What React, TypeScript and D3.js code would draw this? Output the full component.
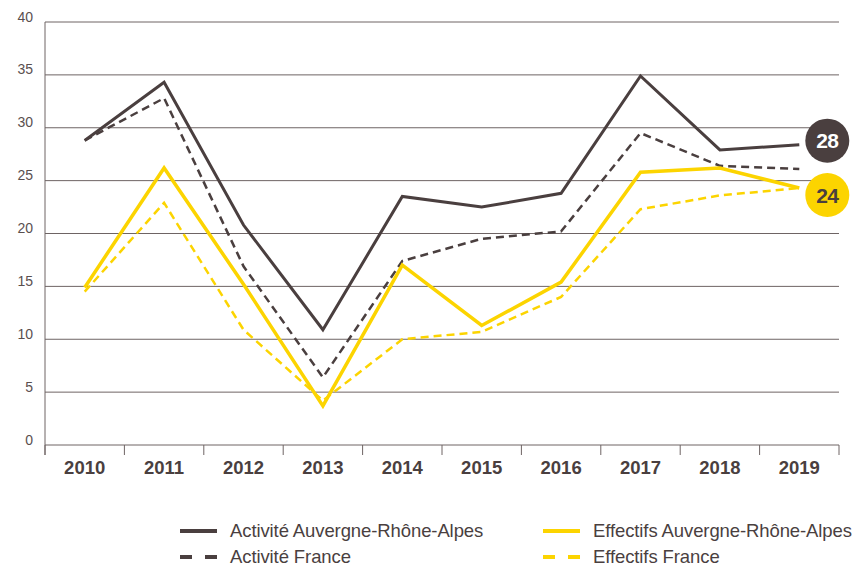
import React, { useEffect, useRef } from 'react';
import * as d3 from 'd3';

const years = ['2010', '2011', '2012', '2013', '2014', '2015', '2016', '2017', '2018', '2019'];
const activiteARA = [28.8, 34.3, 20.8, 10.9, 23.5, 22.5, 23.8, 34.9, 27.9, 28.4];
const activiteFrance = [28.8, 32.8, 16.9, 6.4, 17.4, 19.5, 20.2, 29.5, 26.4, 26.1];
const effectifsARA = [14.9, 26.2, 15.2, 3.7, 17.0, 11.3, 15.4, 25.8, 26.2, 24.3];
const effectifsFrance = [14.5, 22.9, 10.9, 4.2, 10.0, 10.7, 14.0, 22.3, 23.6, 24.3];
const yTicks = [0, 5, 10, 15, 20, 25, 30, 35, 40];

const DARK = '#4a3f3f';
const YELLOW = '#fcd400';

const series = [
  { name: 'Activité Auvergne-Rhône-Alpes', values: activiteARA, color: DARK, dash: null, width: 3 },
  { name: 'Activité France', values: activiteFrance, color: DARK, dash: '8,5', width: 2.5 },
  { name: 'Effectifs Auvergne-Rhône-Alpes', values: effectifsARA, color: YELLOW, dash: null, width: 3.5 },
  { name: 'Effectifs France', values: effectifsFrance, color: YELLOW, dash: '8,5', width: 2.5 },
];

const endLabels = [
  { text: '28', values: activiteARA, fill: DARK, textColor: '#ffffff', nudge: -4 },
  { text: '24', values: effectifsARA, fill: YELLOW, textColor: DARK, nudge: 7 },
];

const W = 856;
const H = 566;
const left = 45;
const right = 839;
const top = 22;
const bottom = 445;

function Chart() {
  const ref = useRef<SVGSVGElement>(null);

  useEffect(() => {
    const svg = d3.select(ref.current);
    svg.selectAll('*').remove();
    const font = '"Liberation Sans", Arial, sans-serif';

    const x = d3.scaleBand().domain(years).range([left, right]);
    const y = d3.scaleLinear().domain([0, 40]).range([bottom, top]);
    const cx = (i: number) => (x(years[i]) as number) + x.bandwidth() / 2;

    // grid
    svg.append('g')
      .selectAll('line')
      .data(yTicks)
      .enter()
      .append('line')
      .attr('x1', left)
      .attr('x2', right)
      .attr('y1', d => y(d))
      .attr('y2', d => y(d))
      .attr('stroke', '#6e6464')
      .attr('stroke-width', 1);

    svg.append('g')
      .selectAll('text')
      .data(yTicks)
      .enter()
      .append('text')
      .attr('x', 33)
      .attr('y', d => y(d) - 0.5)
      .attr('text-anchor', 'end')
      .attr('font-family', font)
      .attr('font-size', 14)
      .attr('fill', '#5a4f4f')
      .text(d => d);

    // left axis line
    svg.append('line')
      .attr('x1', left).attr('x2', left)
      .attr('y1', top).attr('y2', bottom + 10)
      .attr('stroke', '#6e6464');

    // x ticks at band edges
    const edges = years.map(d => x(d) as number).concat([right]);
    svg.append('g')
      .selectAll('line')
      .data(edges)
      .enter()
      .append('line')
      .attr('x1', d => d).attr('x2', d => d)
      .attr('y1', bottom).attr('y2', bottom + 10)
      .attr('stroke', '#6e6464');

    svg.append('g')
      .selectAll('text')
      .data(years)
      .enter()
      .append('text')
      .attr('x', (d, i) => cx(i))
      .attr('y', bottom + 29)
      .attr('text-anchor', 'middle')
      .attr('font-family', font)
      .attr('font-weight', 'bold')
      .attr('font-size', 18.5)
      .attr('fill', DARK)
      .text(d => d);

    const line = d3.line<number>()
      .x((d, i) => cx(i))
      .y(d => y(d));

    // France dashed first, then regional solid on top
    const order = [3, 1, 2, 0];
    order.forEach(k => {
      const s = series[k];
      svg.append('path')
        .datum(s.values)
        .attr('d', line)
        .attr('fill', 'none')
        .attr('stroke', s.color)
        .attr('stroke-width', s.width)
        .attr('stroke-dasharray', s.dash)
        .attr('stroke-linejoin', 'miter');
    });

    // end labels
    const last = years.length - 1;
    endLabels.forEach(l => {
      const g = svg.append('g')
        .attr('transform', `translate(${cx(last) + 28},${y(l.values[last]) + l.nudge})`);
      g.append('circle').attr('r', 22).attr('fill', l.fill);
      g.append('text')
        .attr('text-anchor', 'middle')
        .attr('dy', '0.36em')
        .attr('font-family', font)
        .attr('font-weight', 'bold')
        .attr('font-size', 21)
        .attr('letter-spacing', -0.5)
        .attr('fill', l.textColor)
        .text(l.text);
    });

    // legend
    const legendPos = [
      { x: 180, y: 531 },
      { x: 180, y: 557 },
      { x: 543, y: 531 },
      { x: 543, y: 557 },
    ];
    series.forEach((s, i) => {
      const p = legendPos[i];
      const g = svg.append('g').attr('transform', `translate(${p.x},${p.y})`);
      g.append('line')
        .attr('x1', 0).attr('x2', 37)
        .attr('y1', 0).attr('y2', 0)
        .attr('stroke', s.color)
        .attr('stroke-width', 4)
        .attr('stroke-dasharray', s.dash ? '12,13' : null);
      g.append('text')
        .attr('x', 50)
        .attr('dy', '0.35em')
        .attr('font-family', font)
        .attr('font-size', 18.5)
        .attr('letter-spacing', -0.1)
        .attr('fill', DARK)
        .text(s.name);
    });
  }, []);

  return <svg ref={ref} width={W} height={H} style={{ display: 'block' }} />;
}

export default function App() {
  return (
    <div style={{ position: 'absolute', left: 0, top: 0, width: W, height: H, background: '#fff' }}>
      <Chart />
    </div>
  );
}
